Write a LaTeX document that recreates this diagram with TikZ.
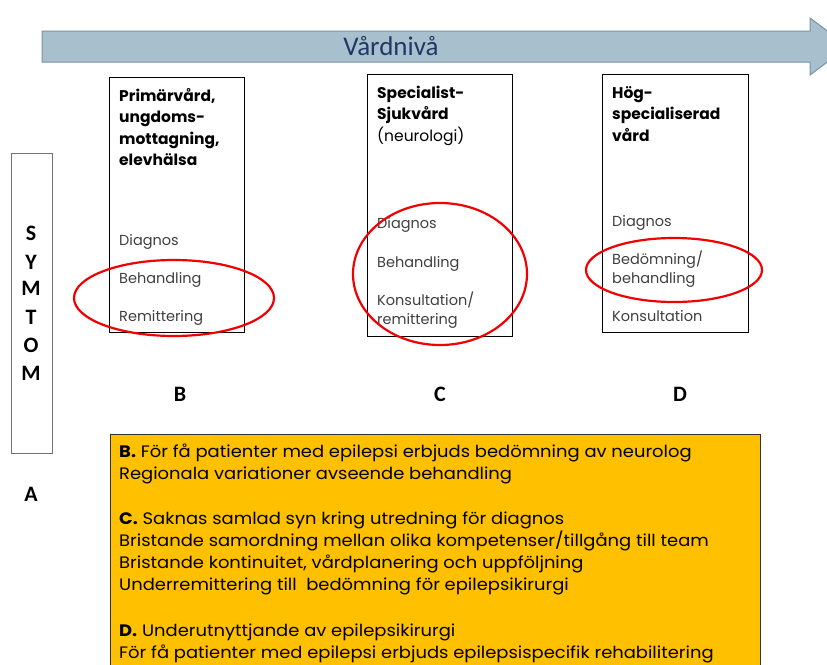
\documentclass[tikz,border=0pt]{standalone}
\usepackage{fontspec}
\setmainfont{Poppins}
\newfontfamily\calib{Carlito}
\newfontfamily\widefont[FakeStretch=1.08]{Poppins}
\usetikzlibrary{shapes.geometric}
\definecolor{arrowfill}{RGB}{168,192,205}
\definecolor{arrowline}{RGB}{120,146,164}
\definecolor{navy}{RGB}{31,56,100}
\definecolor{orangebox}{RGB}{255,192,0}
\definecolor{bodygray}{RGB}{64,64,64}
\definecolor{ringred}{RGB}{240,0,0}
\begin{document}
\begin{tikzpicture}[x=1pt,y=-1pt,
  colbox/.style={draw=black,line width=0.8pt,fill=white,inner sep=0pt,anchor=north west},
  sidebox/.style={draw=black!55,line width=1pt,inner sep=0pt,anchor=north west},
  notebox/.style={draw=black!80,line width=0.8pt,fill=orangebox,inner sep=0pt,anchor=north west},
  ttl/.style={anchor=base west,inner sep=0pt,font=\fontsize{15.5}{18}\selectfont\bfseries},
  ttn/.style={anchor=base west,inner sep=0pt,font=\fontsize{15.5}{18}\selectfont},
  itm/.style={anchor=base west,inner sep=0pt,text=bodygray,font=\fontsize{14.5}{17}\selectfont},
  note/.style={anchor=base west,inner sep=0pt,font=\widefont\fontsize{16.6}{19}\selectfont},
  letter/.style={anchor=base,inner sep=0pt,font=\calib\fontsize{22}{24}\selectfont\bfseries},
  ring/.style={draw=ringred,line width=2.2pt,ellipse,inner sep=0pt}]
\useasboundingbox (0,0) rectangle (827,664);
\clip (0,0) rectangle (827,664);

% arrow
\draw[fill=arrowfill,draw=arrowline,line width=1pt,line join=miter]
  (42,31) -- (810,31) -- (810,18) -- (848,46.5) -- (810,75) -- (810,62) -- (42,62) -- cycle;
\node[anchor=base,inner sep=0pt,text=navy,font=\calib\fontsize{27}{29}\selectfont] (vn) at (391,55) {Vårdnivå};

% SYMTOM column
\node[sidebox,minimum width=41pt,minimum height=300pt] (sym) at (11,153) {};
\node[letter] (s1) at (31,240.5) {S};
\node[letter] (s2) at (31,269.5) {Y};
\node[letter] (s3) at (31,295.5) {M};
\node[letter] (s4) at (31,324.5) {T};
\node[letter] (s5) at (31,352.5) {O};
\node[letter] (s6) at (31,380.5) {M};
\node[letter] (la) at (31,501) {A};

% boxes
\node[colbox,minimum width=135pt,minimum height=255pt] (prim) at (109,77) {};
\node[colbox,minimum width=145pt,minimum height=262pt] (spec) at (367,74) {};
\node[colbox,minimum width=146pt,minimum height=258pt] (hog) at (602,74) {};

% primary care text
\node[ttl] (p1) at (119,101) {Primärvård,};
\node[ttl] (p2) at (119,122.5) {ungdoms-};
\node[ttl] (p3) at (119,144) {mottagning,};
\node[ttl] (p4) at (119,165.5) {elevhälsa};
\node[itm] (p5) at (119,245) {Diagnos};
\node[itm] (p6) at (119,283) {Behandling};
\node[itm] (p7) at (119,321) {Remittering};

% specialist text
\node[ttl] (c1) at (377,98) {Specialist-};
\node[ttl] (c2) at (377,119.5) {Sjukvård};
\node[ttn] (c3) at (377,141) {(neurologi)};
\node[itm] (c4) at (377,228) {Diagnos};
\node[itm] (c5) at (377,267) {Behandling};
\node[itm] (c6) at (377,305) {Konsultation/};
\node[itm] (c7) at (377,324) {remittering};

% high specialised text
\node[ttl] (h1) at (612,98) {Hög-};
\node[ttl] (h2) at (612,119.5) {specialiserad};
\node[ttl] (h3) at (612,141) {vård};
\node[itm] (h4) at (612,226) {Diagnos};
\node[itm] (h5) at (612,264) {Bedömning/};
\node[itm] (h6) at (612,283) {behandling};
\node[itm] (h7) at (612,321) {Konsultation};

% red rings
\node[ring,minimum width=200pt,minimum height=76pt] (r1) at (174,298) {};
\node[ring,minimum width=174pt,minimum height=142pt] (r2) at (440,274) {};
\node[ring,minimum width=176pt,minimum height=64pt] (r3) at (674,270) {};

% column letters
\node[letter] (lb) at (180,401.5) {B};
\node[letter] (lc) at (440,401.5) {C};
\node[letter] (ld) at (680,401.5) {D};

% note box
\node[notebox,minimum width=650pt,minimum height=250pt] (notes) at (110,434) {};
\node[note] (n1) at (119,457.5) {\textbf{B.} För få patienter med epilepsi erbjuds bedömning av neurolog};
\node[note] (n2) at (119,479.5) {Regionala variationer avseende behandling};
\node[note] (n3) at (119,524.5) {\textbf{C.} Saknas samlad syn kring utredning för diagnos};
\node[note] (n4) at (119,546.5) {Bristande samordning mellan olika kompetenser/tillgång till team};
\node[note] (n5) at (119,568.5) {Bristande kontinuitet, vårdplanering och uppföljning};
\node[note] (n6) at (119,590.5) {Underremittering till\ \ bedömning för epilepsikirurgi};
\node[note] (n7) at (119,636.5) {\textbf{D.} Underutnyttjande av epilepsikirurgi};
\node[note] (n8) at (119,658.5) {För få patienter med epilepsi erbjuds epilepsispecifik rehabilitering};
\end{tikzpicture}
\end{document}
